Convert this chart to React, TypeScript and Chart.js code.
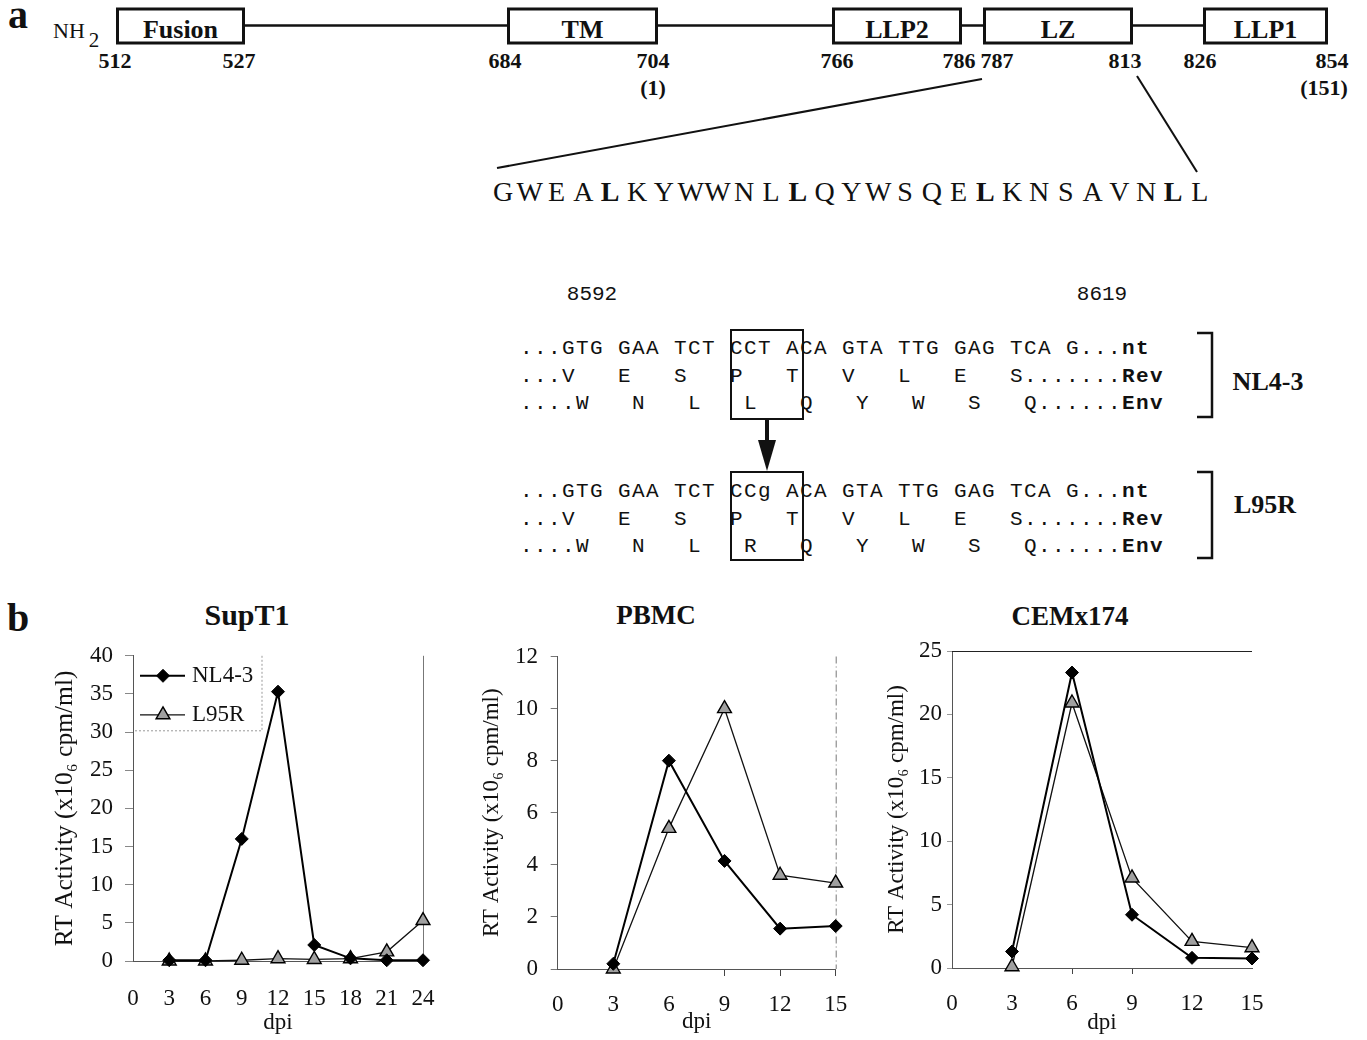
import React, { useEffect, useRef } from "react";
import { Chart, registerables } from "chart.js";
import { drawPoint } from "chart.js/helpers";

Chart.register(...registerables);

// ---------------- data ----------------
const supt1Days = [3, 6, 9, 12, 15, 18, 21, 24];
const supt1NL43 = [0.1, 0.1, 16, 35.3, 2.1, 0.35, 0.1, 0.1];
const supt1L95R = [0, 0, 0.1, 0.3, 0.2, 0.3, 1.2, 5.3];

const pbmcDays = [3, 6, 9, 12, 15];
const pbmcNL43 = [0.2, 8.0, 4.15, 1.55, 1.65];
const pbmcL95R = [0, 5.4, 10.0, 3.6, 3.3];

const cemDays = [3, 6, 9, 12, 15];
const cemNL43 = [1.3, 23.3, 4.2, 0.8, 0.75];
const cemL95R = [0.1, 20.9, 7.1, 2.1, 1.6];

const seriesLabels = ["NL4-3", "L95R"];
const yAxisTitle = "RT Activity (x10\u2086 cpm/ml)";
const xAxisTitle = "dpi";

// panel a text content
const lzSequence = "GWEALKYWWNLLQYWSQELKNSAVNLL";
const lzBold = [4, 11, 18, 25];
const wtRows = [
  ["...GTG GAA TCT CCT ACA GTA TTG GAG TCA G...", "nt"],
  ["...V   E   S   P   T   V   L   E   S.......", "Rev"],
  ["....W   N   L   L   Q   Y   W   S   Q......", "Env"],
];
const mutRows = [
  ["...GTG GAA TCT CCg ACA GTA TTG GAG TCA G...", "nt"],
  ["...V   E   S   P   T   V   L   E   S.......", "Rev"],
  ["....W   N   L   R   Q   Y   W   S   Q......", "Env"],
];

const SERIF = "'Liberation Serif', 'Times New Roman', serif";
const MONO = "'Liberation Mono', 'Courier New', monospace";
const INK = "#111";

// ---------------- plugins ----------------
const insideLegend = {
  id: "insideLegend",
  afterDraw(chart: any, _a: any, o: any) {
    if (!o || !o.display) return;
    const { ctx } = chart;
    const { left, top } = chart.chartArea;
    ctx.save();
    ctx.strokeStyle = "#999";
    ctx.lineWidth = 1;
    ctx.setLineDash([2, 2]);
    ctx.beginPath();
    ctx.moveTo(left + o.w, top);
    ctx.lineTo(left + o.w, top + o.h);
    ctx.lineTo(left, top + o.h);
    ctx.stroke();
    ctx.setLineDash([]);
    chart.data.datasets.forEach((ds: any, i: number) => {
      const y = top + o.rows[i];
      ctx.strokeStyle = ds.borderColor;
      ctx.lineWidth = ds.borderWidth;
      ctx.beginPath();
      ctx.moveTo(left + o.lineX0, y);
      ctx.lineTo(left + o.lineX1, y);
      ctx.stroke();
      ctx.fillStyle = ds.pointBackgroundColor;
      ctx.strokeStyle = ds.pointBorderColor;
      ctx.lineWidth = ds.pointBorderWidth;
      drawPoint(
        ctx,
        { pointStyle: ds.pointStyle, radius: ds.pointRadius, borderWidth: ds.pointBorderWidth, rotation: 0 } as any,
        left + o.markerX,
        y
      );
      ctx.fillStyle = INK;
      ctx.font = o.font;
      ctx.textBaseline = "middle";
      ctx.textAlign = "left";
      ctx.fillText(ds.label, left + o.textX, y);
    });
    ctx.restore();
  },
};

const frameLines = {
  id: "frameLines",
  beforeDatasetsDraw(chart: any, _a: any, o: any) {
    if (!o) return;
    const { ctx } = chart;
    const { left, right, top, bottom } = chart.chartArea;
    ctx.save();
    ctx.strokeStyle = o.color || "#666";
    ctx.lineWidth = o.width || 1;
    ctx.setLineDash(o.dash || []);
    ctx.beginPath();
    if (o.right) {
      ctx.moveTo(right + 0.5, top);
      ctx.lineTo(right + 0.5, bottom);
    }
    if (o.top) {
      ctx.moveTo(left, top + 0.5);
      ctx.lineTo(right, top + 0.5);
    }
    ctx.stroke();
    ctx.restore();
  },
};

// ---------------- chart builder ----------------
type Layout = {
  width: number;
  height: number;
  xMax: number;
  yMax: number;
  yStep: number;
  yW: number;
  xH: number;
  padTop: number;
  padRight: number;
  yTitleSize: number;
  yTitlePad: number;
  xTitlePad: number;
  tickSize: number;
  yTickLen: number;
  yTickPad: number;
  yTickColor: string;
  xTickLen: number;
  xTickPad: number;
  xTickShow: (v: number) => boolean;
  frame: any;
  legend: any;
};

function buildConfig(days: number[], nl: number[], l95: number[], L: Layout): any {
  const tickFont = { family: SERIF, size: L.tickSize };
  return {
    type: "scatter",
    data: {
      datasets: [
        {
          label: seriesLabels[0],
          data: days.map((d, i) => ({ x: d, y: nl[i] })),
          showLine: true,
          borderColor: "#000",
          backgroundColor: "#000",
          borderWidth: 2,
          pointStyle: "rectRot",
          pointRadius: 6.5,
          pointBackgroundColor: "#000",
          pointBorderColor: "#000",
          pointBorderWidth: 1,
          clip: false,
        },
        {
          label: seriesLabels[1],
          data: days.map((d, i) => ({ x: d, y: l95[i] })),
          showLine: true,
          borderColor: "#111",
          backgroundColor: "#999",
          borderWidth: 1.3,
          pointStyle: "triangle",
          pointRadius: 8,
          pointBackgroundColor: "#a0a0a0",
          pointBorderColor: "#000",
          pointBorderWidth: 1.4,
          clip: false,
        },
      ],
    },
    options: {
      responsive: false,
      animation: false,
      devicePixelRatio: 1,
      layout: { padding: { left: 0, right: L.padRight, top: L.padTop, bottom: 0 } },
      plugins: {
        legend: { display: false },
        title: { display: false },
        tooltip: { enabled: false },
        frameLines: L.frame,
        insideLegend: L.legend,
      },
      scales: {
        x: {
          type: "linear",
          min: 0,
          max: L.xMax,
          ticks: { stepSize: 3, font: tickFont, color: INK, padding: L.xTickPad, maxRotation: 0 },
          grid: {
            display: true,
            drawOnChartArea: false,
            drawTicks: L.xTickLen > 0,
            tickLength: L.xTickLen,
            color: (c: any) => (c.tick && L.xTickShow(c.tick.value) ? "#444" : "rgba(0,0,0,0)"),
          },
          border: { display: true, color: "#555", width: 1 },
          title: {
            display: true,
            text: xAxisTitle,
            color: INK,
            font: { family: SERIF, size: 23 },
            padding: { top: 0, bottom: L.xTitlePad },
          },
          afterFit: (s: any) => {
            s.height = L.xH;
          },
        },
        y: {
          type: "linear",
          min: 0,
          max: L.yMax,
          ticks: { stepSize: L.yStep, font: tickFont, color: INK, padding: L.yTickPad },
          grid: {
            display: true,
            drawOnChartArea: false,
            drawTicks: true,
            tickLength: L.yTickLen,
            color: L.yTickColor,
          },
          border: { display: true, color: "#555", width: 1 },
          title: {
            display: true,
            text: yAxisTitle,
            color: INK,
            font: { family: SERIF, size: L.yTitleSize },
            padding: { top: L.yTitlePad, bottom: 0 },
          },
          afterFit: (s: any) => {
            s.width = L.yW;
          },
        },
      },
    },
    plugins: [frameLines, insideLegend],
  };
}

function LineChart(props: { left: number; top: number; config: any; width: number; height: number }) {
  const ref = useRef<HTMLCanvasElement | null>(null);
  useEffect(() => {
    if (!ref.current) return;
    const chart = new Chart(ref.current, props.config);
    return () => chart.destroy();
  }, []);
  return (
    <div style={{ position: "absolute", left: props.left, top: props.top, width: props.width, height: props.height }}>
      <canvas ref={ref} width={props.width} height={props.height} style={{ display: "block" }} />
    </div>
  );
}

// ---------------- text helper ----------------
function Txt(props: {
  x: number;
  y: number;
  size: number;
  bold?: boolean;
  mono?: boolean;
  anchor?: "start" | "middle" | "end";
  children: any;
}) {
  const a = props.anchor || "middle";
  const tx = a === "middle" ? "-50%" : a === "end" ? "-100%" : "0";
  return (
    <div
      style={{
        position: "absolute",
        left: props.x,
        top: props.y,
        transform: `translate(${tx}, -50%)`,
        fontSize: props.size,
        lineHeight: 1,
        fontWeight: props.bold ? 700 : 400,
        fontFamily: props.mono ? MONO : SERIF,
        whiteSpace: "pre",
        color: INK,
      }}
    >
      {props.children}
    </div>
  );
}

// ---------------- panel a ----------------
const domainBoxes = [
  { name: "Fusion", x0: 116, x1: 245 },
  { name: "TM", x0: 507, x1: 658 },
  { name: "LLP2", x0: 832, x1: 962 },
  { name: "LZ", x0: 983, x1: 1133 },
  { name: "LLP1", x0: 1203, x1: 1328 },
];
const residueLabels = [
  { t: "512", x: 115 },
  { t: "527", x: 239 },
  { t: "684", x: 505 },
  { t: "704", x: 653 },
  { t: "766", x: 837 },
  { t: "786", x: 959 },
  { t: "787", x: 997 },
  { t: "813", x: 1125 },
  { t: "826", x: 1200 },
  { t: "854", x: 1332 },
];

function SeqRow(props: { y: number; row: string[] }) {
  return (
    <div
      style={{
        position: "absolute",
        left: 520,
        top: props.y,
        transform: "translateY(-50%)",
        fontFamily: MONO,
        fontSize: 21,
        letterSpacing: "1.4px",
        lineHeight: 1,
        whiteSpace: "pre",
        color: INK,
      }}
    >
      {props.row[0]}
      <b>{props.row[1]}</b>
    </div>
  );
}

function PanelA() {
  const boxTop = 7.5;
  const boxBot = 44.5;
  const lineY = 25.5;
  const rowYs1 = [348, 376, 403];
  const rowYs2 = [491, 519, 546];
  return (
    <>
      <svg width={1367} height={600} style={{ position: "absolute", left: 0, top: 0 }}>
        {domainBoxes.map((b) => (
          <rect
            key={b.name}
            x={b.x0 + 1.5}
            y={boxTop + 1.5}
            width={b.x1 - b.x0 - 3}
            height={boxBot - boxTop - 3}
            fill="none"
            stroke={INK}
            strokeWidth={3}
          />
        ))}
        {domainBoxes.slice(0, -1).map((b, i) => (
          <line key={"l" + i} x1={b.x1} y1={lineY} x2={domainBoxes[i + 1].x0} y2={lineY} stroke={INK} strokeWidth={2.5} />
        ))}
        <line x1={982} y1={79} x2={497} y2={168} stroke={INK} strokeWidth={2} />
        <line x1={1137} y1={76} x2={1197} y2={172} stroke={INK} strokeWidth={2} />
        <rect x={731} y={330} width={72} height={89} fill="none" stroke={INK} strokeWidth={2} />
        <rect x={731} y={472} width={72} height={88} fill="none" stroke={INK} strokeWidth={2} />
        <line x1={767} y1={419} x2={767} y2={444} stroke={INK} strokeWidth={4} />
        <polygon points="758,440 776,440 767,471" fill={INK} />
        <path d="M1197,333 H1212 V417 H1197" fill="none" stroke={INK} strokeWidth={2.5} />
        <path d="M1197,472 H1212 V558 H1197" fill="none" stroke={INK} strokeWidth={2.5} />
      </svg>
      <Txt x={18} y={15} size={40} bold>
        a
      </Txt>
      <Txt x={69} y={31} size={22}>
        NH
      </Txt>
      <Txt x={94} y={40} size={21}>
        2
      </Txt>
      {domainBoxes.map((b) => (
        <Txt key={b.name} x={(b.x0 + b.x1) / 2} y={30} size={26} bold>
          {b.name}
        </Txt>
      ))}
      {residueLabels.map((r) => (
        <Txt key={r.t} x={r.x} y={61} size={22} bold>
          {r.t}
        </Txt>
      ))}
      <Txt x={653} y={88} size={22} bold>
        (1)
      </Txt>
      <Txt x={1324} y={88} size={22} bold>
        (151)
      </Txt>
      {lzSequence.split("").map((ch, i) => (
        <Txt key={"s" + i} x={503 + i * 26.8} y={192} size={28} bold={lzBold.includes(i)}>
          {ch}
        </Txt>
      ))}
      <Txt x={592} y={294} size={21} mono>
        8592
      </Txt>
      <Txt x={1102} y={294} size={21} mono>
        8619
      </Txt>
      {wtRows.map((r, i) => (
        <SeqRow key={"w" + i} y={rowYs1[i]} row={r} />
      ))}
      {mutRows.map((r, i) => (
        <SeqRow key={"m" + i} y={rowYs2[i]} row={r} />
      ))}
      <Txt x={1268} y={382} size={26} bold>
        NL4-3
      </Txt>
      <Txt x={1265} y={505} size={26} bold>
        L95R
      </Txt>
    </>
  );
}

// ---------------- layouts ----------------
const supt1Layout: Layout = {
  width: 460,
  height: 410,
  xMax: 24,
  yMax: 40,
  yStep: 5,
  yW: 133,
  xH: 79,
  padTop: 22,
  padRight: 37,
  yTitleSize: 25.5,
  yTitlePad: 49.7,
  xTitlePad: 3.2,
  tickSize: 23,
  yTickLen: 8,
  yTickPad: 12,
  yTickColor: "#888",
  xTickLen: 0,
  xTickPad: 24.2,
  xTickShow: () => false,
  frame: { right: true, color: "#777", width: 1 },
  legend: { display: true, w: 129, h: 75, rows: [20, 59], lineX0: 7, lineX1: 52, markerX: 30, textX: 59, font: `23px ${SERIF}` },
};

const pbmcLayout: Layout = {
  width: 420,
  height: 410,
  xMax: 15,
  yMax: 12,
  yStep: 2,
  yW: 97.7,
  xH: 71,
  padTop: 22,
  padRight: 44.3,
  yTitleSize: 23,
  yTitlePad: 18.2,
  xTitlePad: 4.2,
  tickSize: 23,
  yTickLen: 7,
  yTickPad: 12.7,
  yTickColor: "#777",
  xTickLen: 7,
  xTickPad: 15.2,
  xTickShow: (v: number) => v >= 9,
  frame: { right: true, color: "#777", width: 1, dash: [7, 3, 1, 3] },
  legend: { display: false },
};

const cemLayout: Layout = {
  width: 497,
  height: 410,
  xMax: 15,
  yMax: 25,
  yStep: 5,
  yW: 82,
  xH: 72,
  padTop: 21,
  padRight: 115,
  yTitleSize: 23,
  yTitlePad: 13.2,
  xTitlePad: 3.2,
  tickSize: 23,
  yTickLen: 5,
  yTickPad: 5,
  yTickColor: "#999",
  xTickLen: 6,
  xTickPad: 16.2,
  xTickShow: (v: number) => v === 6 || v === 9,
  frame: { top: true, color: "#222", width: 1 },
  legend: { display: false },
};

export default function App() {
  return (
    <div
      style={{
        position: "absolute",
        left: 0,
        top: 0,
        width: 1367,
        height: 1040,
        background: "#fff",
        overflow: "hidden",
        fontFamily: SERIF,
      }}
    >
      <PanelA />
      <Txt x={18} y={618} size={40} bold>
        b
      </Txt>
      <Txt x={247} y={615} size={30} bold>
        SupT1
      </Txt>
      <Txt x={656} y={615} size={27} bold>
        PBMC
      </Txt>
      <Txt x={1070} y={616} size={27} bold>
        CEMx174
      </Txt>
      <LineChart left={0} top={630} width={460} height={410} config={buildConfig(supt1Days, supt1NL43, supt1L95R, supt1Layout)} />
      <LineChart left={460} top={630} width={420} height={410} config={buildConfig(pbmcDays, pbmcNL43, pbmcL95R, pbmcLayout)} />
      <LineChart left={870} top={630} width={497} height={410} config={buildConfig(cemDays, cemNL43, cemL95R, cemLayout)} />
    </div>
  );
}
